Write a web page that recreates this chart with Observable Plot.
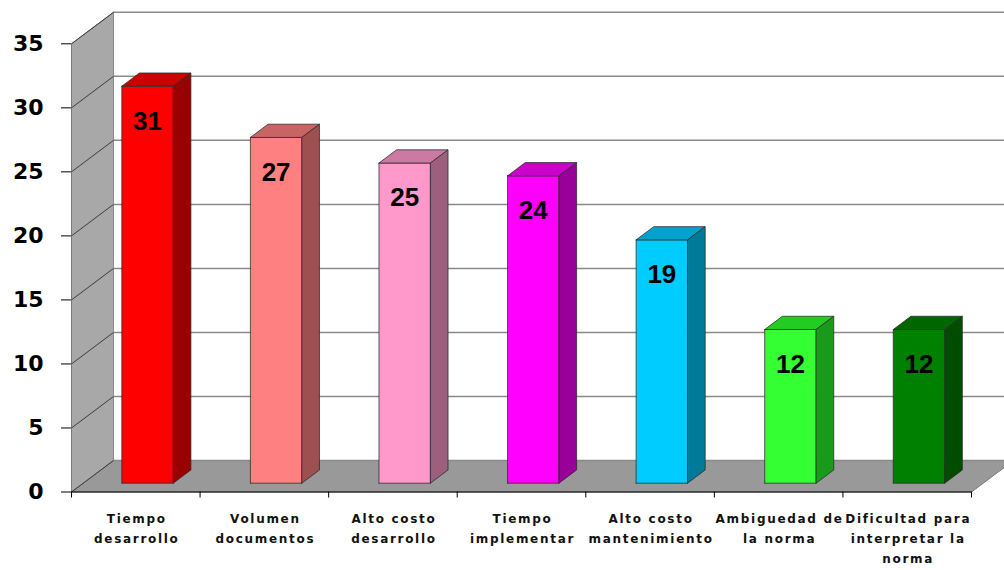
<!DOCTYPE html>
<html>
<head>
<meta charset="utf-8">
<script src="https://cdn.jsdelivr.net/npm/d3@7"></script>
<script src="https://cdn.jsdelivr.net/npm/@observablehq/plot@0.6"></script>
<style>
  body { margin: 0; background: #fff; }
</style>
</head>
<body>
<div id="chart"></div>
<script>
// Categories and counts
const categories = [
  "Tiempo\ndesarrollo",
  "Volumen\ndocumentos",
  "Alto costo\ndesarrollo",
  "Tiempo\nimplementar",
  "Alto costo\nmantenimiento",
  "Ambiguedad de\nla norma",
  "Dificultad para\ninterpretar la\nnorma"
];
const values = [31, 27, 25, 24, 19, 12, 12];
const yTicks = [0, 5, 10, 15, 20, 25, 30, 35];

// Face colours of each column: front, top (lighter shade), side (darker shade)
const frontColors = ["#ff0000", "#ff8080", "#ff99cc", "#ff00ff", "#00ccff", "#33ff33", "#008000"];
const topColors   = ["#cc0000", "#c86464", "#cc7aa3", "#cc00cc", "#00a3cc", "#22cc22", "#006600"];
const sideColors  = ["#990000", "#9c5050", "#9c5f7e", "#990099", "#007a99", "#1a9a1a", "#004d00"];

// Layout
const W = 1004, H = 570;
const mL = 71, mR = 33, mT = 43.3, mB = 78.5;
const n = categories.length;
const yMax = 35;

// Oblique depth of the chart box, in pixels, converted to data units
const depthX = 42, depthY = 31.5;
const KX = depthX * n / (W - mL - mR);
const KY = depthY * yMax / (H - mT - mB);
const D0 = 0.28, D1 = 0.70;   // front and back depth of the columns
const HALF = 0.2;             // half-width of a column, in category units

// project a point (x, y, depth) onto the x/y plane
const proj = (x, y, d) => [x + KX * d, y + KY * d];

function polygon(id, pts, fill) {
  const ring = pts.map(([x, y, d]) => proj(x, y, d));
  ring.push(ring[0]);
  return ring.map(([x, y]) => ({id, x, y, fill}));
}

// Walls: floor and left side wall
const walls = [
  ...polygon("floor", [[0, 0, 0], [n, 0, 0], [n, 0, 1], [0, 0, 1]], "#999999"),
  ...polygon("left", [[0, 0, 0], [0, yMax, 0], [0, yMax, 1], [0, 0, 1]], "#a8a8a8")
];

// Column faces
const faces = [];
values.forEach((v, i) => {
  const a = i + 0.5 - HALF, b = i + 0.5 + HALF;
  faces.push(...polygon(`f${i}`, [[a, 0, D0], [b, 0, D0], [b, v, D0], [a, v, D0]], frontColors[i]));
  faces.push(...polygon(`t${i}`, [[a, v, D0], [b, v, D0], [b, v, D1], [a, v, D1]], topColors[i]));
  faces.push(...polygon(`s${i}`, [[b, 0, D0], [b, 0, D1], [b, v, D1], [b, v, D0]], sideColors[i]));
});

const chart = Plot.plot({
  width: W,
  height: H,
  marginLeft: mL,
  marginRight: mR,
  marginTop: mT,
  marginBottom: mB,
  x: {type: "linear", domain: [0, n]},
  y: {type: "linear", domain: [0, yMax]},
  color: {type: "identity"},
  marks: [
    // side wall and floor
    Plot.line(walls, {x: "x", y: "y", z: "id", fill: "fill", stroke: "#7a7a7a", strokeWidth: 1, curve: "linear"}),
    // gridlines on the back wall
    Plot.ruleY(yTicks, {y: (t) => t + KY, x1: () => KX, x2: () => n + 2 * KX, stroke: "#8a8a8a", strokeWidth: 1.5}),
    Plot.ruleX([KX], {y1: KY, y2: yMax + KY, stroke: "#8a8a8a", strokeWidth: 1}),
    // gridlines on the side wall
    Plot.link(yTicks, {x1: () => 0, y1: (t) => t, x2: () => KX, y2: (t) => t + KY, stroke: "#3c3c3c", strokeWidth: 1}),
    // columns
    Plot.line(faces, {x: "x", y: "y", z: "id", fill: "fill", stroke: "#2a2a2a", strokeOpacity: 0.75, strokeWidth: 1, curve: "linear"}),
    // value labels
    Plot.text(values, {
      x: (d, i) => i + 0.5 + KX * D0,
      y: (d) => d + KY * D0,
      dy: 35,
      text: (d) => String(d),
      fontSize: 26,
      fontWeight: "bold",
      fontFamily: "Liberation Sans, Arial, sans-serif",
      fill: "#000"
    }),
    // axes
    Plot.ruleY([0], {x1: () => 0, x2: () => n, stroke: "#000", strokeWidth: 1.2}),
    Plot.axisY({
      ticks: yTicks,
      tickSize: 10,
      tickPadding: 18,
      tickFormat: (d) => String(d),
      label: null,
      fontSize: 22,
      fontWeight: "bold",
      fontFamily: "DejaVu Sans, Verdana, sans-serif",
      fill: "#000",
      stroke: "#000"
    }),
    Plot.axisX({
      ticks: d3.range(n + 1),
      tickSize: 6,
      tickFormat: () => "",
      label: null,
      stroke: "#000"
    }),
    // category labels
    Plot.text(categories, {
      x: (d, i) => i + 0.5,
      y: () => 0,
      dy: 17,
      dx: 1,
      text: (d) => d,
      lineAnchor: "top",
      lineHeight: 1.65,
      fontSize: 12,
      fontWeight: "bold",
      fontFamily: "DejaVu Sans, Verdana, sans-serif",
      fill: "#111"
    })
  ]
});

// widen the tracking of the category labels
d3.select(chart)
  .selectAll('g[font-size="12"] text, g[font-size="12"] tspan')
  .style("letter-spacing", "1.7px");

document.getElementById("chart").appendChild(chart);
</script>
</body>
</html>
